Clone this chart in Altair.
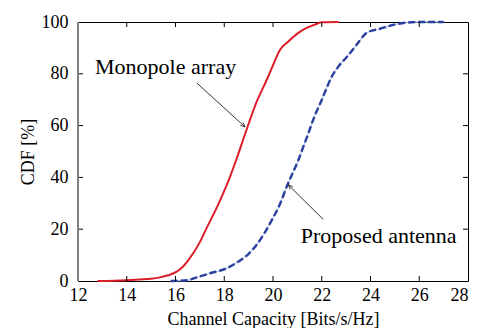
import altair as alt
import pandas as pd
import math

# ---- data ----
mono_x = [12.8, 13.5, 14.0, 14.54, 15.0, 15.36, 15.7, 16.05, 16.3, 16.53, 17.0, 17.28, 17.75,
          18.24, 18.5, 18.9, 19.3, 19.74, 19.95, 20.29, 20.63, 21.04, 21.38, 21.72, 22.0, 22.7]
mono_y = [0, 0.1, 0.3, 0.6, 0.9, 1.4, 2.2, 3.6, 5.5, 8.1, 15, 20.5, 29.5,
          40.3, 47, 58, 68.5, 77.6, 82.2, 89.3, 92.5, 95.8, 97.7, 99, 99.9, 100]

prop_x = [15.8, 16.5, 16.87, 17.42, 18.1, 18.58, 19.0, 19.33, 19.65, 19.95, 20.3, 20.56, 20.8,
          21.04, 21.25, 21.45, 21.7, 22.0, 22.2, 22.41, 22.7, 23.02, 23.43, 23.84, 24.39,
          25.07, 25.69, 26.2, 27.0]
prop_y = [0, 0.3, 1.4, 3.0, 4.9, 7.5, 10.5, 14, 18.5, 23.5, 30, 36.4, 41.5,
          46.7, 52, 57, 63.5, 69.9, 74.5, 78.9, 83, 86.4, 91.2, 95.8, 97.4,
          99.2, 99.9, 100, 100]

x_ticks = [12, 14, 16, 18, 20, 22, 24, 26, 28]
y_ticks = [0, 20, 40, 60, 80, 100]
x_inner_ticks = [14, 16, 18, 20, 22, 24, 26]
y_inner_ticks = [20, 40, 60, 80]

labels = ["Monopole array", "Proposed antenna"]
label_x = [12.70, 21.14]
label_y = [79.9, 14.6]
arrow_x = [16.88, 22.06]
arrow_y = [76.4, 23.8]
arrow_x2 = [18.85, 20.63]
arrow_y2 = [59.5, 37.1]

W, H = 390, 259
XMIN, XMAX, YMIN, YMAX = 12, 28, 0, 100

mono = pd.DataFrame({"x": mono_x, "y": mono_y})
prop = pd.DataFrame({"x": prop_x, "y": prop_y})

# arrow angles computed in pixel space
px_per_x = W / (XMAX - XMIN)
px_per_y = H / (YMAX - YMIN)
angles = []
for x1, y1, x2, y2 in zip(arrow_x, arrow_y, arrow_x2, arrow_y2):
    dx = (x2 - x1) * px_per_x
    dy = -(y2 - y1) * px_per_y
    angles.append((math.degrees(math.atan2(dx, -dy)) + 360) % 360)
arrows = pd.DataFrame({"x": arrow_x, "y": arrow_y, "x2": arrow_x2, "y2": arrow_y2, "angle": angles})
texts = pd.DataFrame({"x": label_x, "y": label_y, "t": labels})

FONT = "Times New Roman, Liberation Serif, Times, serif"

xs = alt.Scale(domain=[XMIN, XMAX], nice=False, zero=False)
ys = alt.Scale(domain=[YMIN, YMAX], nice=False)

xaxis = alt.Axis(values=x_ticks, ticks=False, tickSize=0, domain=False, grid=False,
                 labelFont=FONT, labelFontSize=18, labelColor="black", labelPadding=5,
                 labelAlign=alt.expr("datum.value >= 28 ? 'right' : 'center'"),
                 title="Channel Capacity [Bits/s/Hz]", titleFont=FONT, titleFontSize=18,
                 titleFontWeight="normal", titleColor="black", titleX=W / 2, titleY=43,
                 titleAlign="center", titleBaseline="alphabetic", labelFlush=False)
yaxis = alt.Axis(values=y_ticks, ticks=False, tickSize=0, domain=False, grid=False,
                 labelFont=FONT, labelFontSize=18, labelColor="black", labelPadding=10,
                 labelBaseline="middle",
                 title="CDF [%]", titleFont=FONT, titleFontSize=18, titleFontWeight="normal",
                 titleColor="black", titleX=-45, titleY=H / 2, titleAngle=270,
                 titleAlign="center", titleBaseline="alphabetic", labelFlush=False)

red = alt.Chart(mono).mark_line(color="#dc1e2a", strokeWidth=2, interpolate="monotone").encode(
    x=alt.X("x:Q", scale=xs, axis=xaxis),
    y=alt.Y("y:Q", scale=ys, axis=yaxis),
)
blue_thin = alt.Chart(prop).mark_line(color="#a3b3e2", strokeWidth=1, interpolate="monotone").encode(
    x=alt.X("x:Q", scale=xs), y=alt.Y("y:Q", scale=ys))
blue_dash = alt.Chart(prop).mark_line(color="#2a3f9e", strokeWidth=2.4, strokeDash=[7, 3],
                                      interpolate="monotone").encode(
    x=alt.X("x:Q", scale=xs), y=alt.Y("y:Q", scale=ys))

xt = pd.DataFrame({"v": x_inner_ticks})
yt = pd.DataFrame({"v": y_inner_ticks})
tick_b = alt.Chart(xt).mark_rule(color="black", strokeWidth=1).encode(
    x=alt.X("v:Q", scale=xs), y=alt.value(H), y2=alt.value(H - 5))
tick_t = alt.Chart(xt).mark_rule(color="black", strokeWidth=1).encode(
    x=alt.X("v:Q", scale=xs), y=alt.value(0), y2=alt.value(5))
tick_l = alt.Chart(yt).mark_rule(color="black", strokeWidth=1).encode(
    y=alt.Y("v:Q", scale=ys), x=alt.value(0), x2=alt.value(5))
tick_r = alt.Chart(yt).mark_rule(color="black", strokeWidth=1).encode(
    y=alt.Y("v:Q", scale=ys), x=alt.value(W), x2=alt.value(W - 5))
left_line = alt.Chart(pd.DataFrame({"a": [0]})).mark_rule(color="#808080", strokeWidth=2).encode(
    x=alt.value(0), y=alt.value(0), y2=alt.value(H))

arrow_lines = alt.Chart(arrows).mark_rule(color="black", strokeWidth=0.8).encode(
    x=alt.X("x:Q", scale=xs), y=alt.Y("y:Q", scale=ys),
    x2="x2:Q", y2="y2:Q")
arrow_heads = alt.Chart(arrows).mark_point(
    shape="M-0.45,1 L0,0 L0.45,1", filled=False, color="black", strokeWidth=0.9, size=80
).encode(x=alt.X("x2:Q", scale=xs), y=alt.Y("y2:Q", scale=ys), angle=alt.Angle("angle:Q", scale=None))

text = alt.Chart(texts).mark_text(font=FONT, fontSize=22, align="left", baseline="alphabetic",
                                  color="black").encode(
    x=alt.X("x:Q", scale=xs), y=alt.Y("y:Q", scale=ys), text="t:N")

chart = alt.layer(
    red, blue_thin, blue_dash, tick_b, tick_t, tick_l, tick_r, left_line,
    arrow_lines, arrow_heads, text
).properties(
    width=W, height=H,
    autosize=alt.AutoSizeParams(type="none"),
    padding={"left": 70, "top": 14, "right": 5, "bottom": 47},
    background="white",
).configure_view(stroke="black", strokeWidth=1)

chart.save("out.html", embed_options={"renderer": "svg", "actions": False})
